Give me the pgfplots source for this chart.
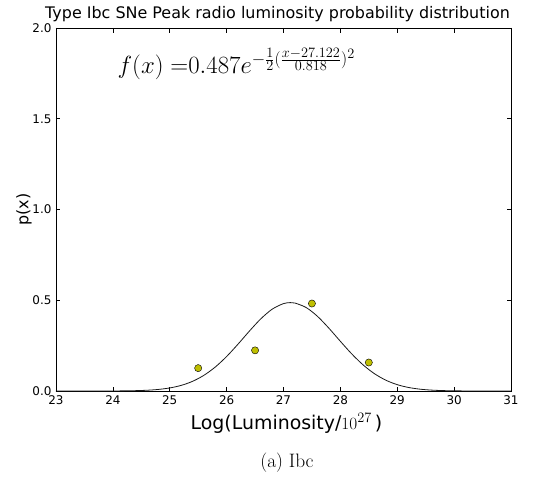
\documentclass[border=0pt]{standalone}
\usepackage{fontspec}
\usepackage{pgfplots}
\pgfplotsset{compat=1.18}
\newfontfamily\dejavu{DejaVu Sans}
\definecolor{mplyellow}{rgb}{0.75,0.75,0}
\begin{document}
\begin{tikzpicture}
\path[use as bounding box] (-56bp,-86bp) rectangle (484bp,391bp);
\begin{axis}[
  scale only axis, width=455bp, height=363bp,
  xmin=23, xmax=31, ymin=0, ymax=2,
  xtick={23,24,25,26,27,28,29,30,31},
  ytick={0,0.5,1,1.5,2},
  yticklabel style={/pgf/number format/fixed, /pgf/number format/fixed zerofill, /pgf/number format/precision=1},
  /pgf/number format/assume math mode=true,
  ticklabel style={font=\dejavu\fontsize{12}{14}\selectfont},
  tick align=inside, major tick length=4.5bp,
  tick style={black, line width=0.5bp},
  axis line style={black, line width=0.9bp},
  xticklabel style={anchor=north, yshift=-1bp},
  yticklabel style={anchor=east, xshift=-1bp},
  title={Type Ibc SNe Peak radio luminosity probability distribution},
  title style={font=\dejavu\fontsize{16}{19}\selectfont, at={(axis description cs:0.5,1)}, anchor=base, xshift=-6bp, yshift=4bp, inner sep=0pt},
  xlabel={Log(Luminosity/$10^{27}$\,)},
  xlabel style={font=\dejavu\fontsize{19}{22}\selectfont, at={(axis description cs:0.5,0)}, anchor=base, xshift=3bp, yshift=-38bp, inner sep=0pt},
  ylabel={p(x)},
  ylabel style={font=\dejavu\fontsize{16}{19}\selectfont, at={(axis description cs:0,0.5)}, anchor=base, yshift=27.5bp, inner sep=0pt},
  clip=true,
]
\addplot[black!90, line width=0.8bp, smooth] coordinates {
(23.0,0.0000) (23.5,0.0000) (24.0,0.00033) (24.2,0.00082) (24.4,0.00192) (24.6,0.00420)
(24.8,0.00866) (25.0,0.01684) (25.2,0.03081) (25.4,0.05311) (25.6,0.08625)
(25.8,0.13193) (26.0,0.19011) (26.2,0.25802) (26.4,0.32990) (26.6,0.39729)
(26.8,0.45069) (27.0,0.48161) (27.122,0.48700) (27.2,0.48479) (27.4,0.45967)
(27.6,0.41057) (27.8,0.34542) (28.0,0.27375) (28.2,0.20436) (28.4,0.14371)
(28.6,0.09520) (28.8,0.05940) (29.0,0.03491) (29.2,0.01933) (29.4,0.01008)
(29.6,0.00495) (29.8,0.00229) (30.0,0.00100) (30.2,0.00041) (30.6,0.00005)
(31.0,0.0000)
};
\addplot[only marks, mark=*, mark size=3.6bp, mark options={fill=mplyellow, draw=black, line width=0.4bp}] coordinates {
(25.5,0.126) (26.5,0.224) (27.5,0.482) (28.5,0.157)
};
\node[anchor=base west, inner sep=0pt] at (axis cs:24.08,1.75) {\fontsize{27}{31}\selectfont $f(x)\;{=}0.487e^{-\frac{1}{2}(\frac{x-27.122}{0.818})^2}$};
\end{axis}
\node[anchor=base, inner sep=0pt] at (231bp,-76bp) {\fontsize{19.5}{23}\selectfont (a) Ibc};
\end{tikzpicture}
\end{document}
